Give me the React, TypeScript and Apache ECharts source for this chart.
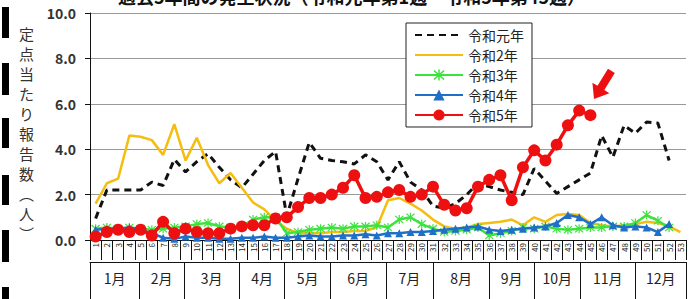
import React, { useEffect, useRef } from "react";
import * as echarts from "echarts";

const weeks: string[] = Array.from({ length: 53 }, (_, i) => String(i + 1));

const seriesNames = ["令和元年", "令和2年", "令和3年", "令和4年", "令和5年"];

const r1: number[] = [
  0.95, 2.2, 2.2, 2.2, 2.2, 2.55, 2.4, 3.55, 3.0, 3.45, 3.8, 3.2, 2.65, 2.3, 2.9, 3.5, 3.9, 1.05, 2.7, 4.3,
  3.6, 3.5, 3.45, 3.35, 3.75, 3.45, 2.65, 3.45, 2.55, 2.2, 1.5, 1.4, 1.6, 2.0, 2.5, 2.35, 2.2, 2.1, 2.0, 3.15,
  2.6, 2.05, 2.35, 2.65, 2.95, 4.6, 3.65, 5.05, 4.7, 5.2, 5.15, 3.5,
];
const r2: number[] = [
  1.6, 2.5, 2.7, 4.6, 4.55, 4.4, 3.75, 5.1, 3.5, 4.5, 3.3, 2.5, 2.95, 2.3, 1.65, 1.35, 0.85, 0.5, 0.3, 0.3,
  0.3, 0.35, 0.35, 0.4, 0.4, 0.55, 1.75, 1.85, 1.6, 1.3, 0.9, 0.6, 0.5, 0.55, 0.7, 0.75, 0.8, 0.9, 0.65, 1.0,
  0.8, 1.1, 1.15, 1.1, 0.75, 0.65, 0.6, 0.65, 0.7, 0.8, 0.75, 0.6, 0.35,
];
const r3: number[] = [
  0.5, 0.55, 0.5, 0.55, 0.5, 0.45, 0.5, 0.55, 0.6, 0.7, 0.75, 0.6, 0.55, 0.6, 0.9, 1.0, 1.0, 0.3, 0.35, 0.45,
  0.5, 0.55, 0.5, 0.6, 0.6, 0.65, 0.55, 0.9, 1.0, 0.7, 0.5, 0.35, 0.4, 0.45, 0.55, 0.2, 0.3, 0.4, 0.55, 0.5,
  0.6, 0.5, 0.45, 0.5, 0.55, 0.55, 0.6, 0.6, 0.75, 1.1, 0.85, 0.55,
];
const r4: number[] = [
  0.45, 0.5, 0.5, 0.55, 0.45, 0.3, 0.1, 0.05, 0.15, 0.1, 0.1, 0.05, 0.05, 0.1, 0.1, 0.15, 0.1, 0.1, 0.15, 0.2,
  0.15, 0.15, 0.2, 0.2, 0.25, 0.2, 0.3, 0.3, 0.35, 0.35, 0.4, 0.45, 0.5, 0.55, 0.6, 0.45, 0.4, 0.45, 0.5, 0.55,
  0.6, 0.75, 1.1, 1.0, 0.7, 1.0, 0.65, 0.55, 0.6, 0.55, 0.35, 0.7,
];
const r5: number[] = [
  0.15, 0.35, 0.45, 0.35, 0.45, 0.2, 0.8, 0.3, 0.5, 0.35, 0.3, 0.3, 0.5, 0.6, 0.65, 0.65, 0.95, 1.0, 1.45, 1.85,
  1.85, 2.0, 2.3, 2.85, 1.85, 1.9, 2.1, 2.2, 1.9, 2.0, 2.35, 1.55, 1.3, 1.4, 2.35, 2.65, 2.85, 1.75, 3.2, 3.95,
  3.5, 4.2, 5.05, 5.7, 5.5,
];

const yTicks = [0, 2, 4, 6, 8, 10];
const monthNames = ["1月", "2月", "3月", "4月", "5月", "6月", "7月", "8月", "9月", "10月", "11月", "12月"];
const monthBounds = [0, 4.4, 8.35, 13.3, 17.3, 21.4, 26.3, 30.5, 35.5, 39.5, 43.6, 48.5, 53];

const FONT = "'Noto Sans CJK JP', 'Noto Sans', sans-serif";

const starPath =
  "path://M-0.12,-1L0.12,-1L0.12,1L-0.12,1Z M-0.9,-0.72L-0.72,-0.9L0.9,0.72L0.72,0.9Z M0.72,-0.9L0.9,-0.72L-0.72,0.9L-0.9,0.72Z";

export default function App() {
  const ref = useRef<HTMLDivElement>(null);
  useEffect(() => {
    if (!ref.current) return;
    const chart = echarts.init(ref.current, undefined, { renderer: "svg" });
    const monthCenters = monthNames.map((_, i) => (monthBounds[i] + monthBounds[i + 1]) / 2);
    const yName = ["定", "点", "当", "た", "り", "報", "告", "数", "︵", "人", "︶"].join("\n");
    const bars = [
      [7, 38],
      [63, 95],
      [118, 148],
      [175, 205],
      [230, 262],
      [287, 305],
    ];
    chart.setOption({
      animation: false,
      backgroundColor: "#ffffff",
      textStyle: { fontFamily: FONT },
      title: {
        text: "過去5年間の発生状況（令和元年第1週～令和5年第45週）",
        left: 118,
        top: -13,
        padding: 0,
        textStyle: { fontSize: 18, fontWeight: "bold", color: "#111", fontFamily: FONT },
      },
      grid: { left: 90, right: 14, top: 13, bottom: 59, containLabel: false },
      legend: {
        orient: "vertical",
        left: 406,
        top: 23,
        padding: [5, 8, 5, 8],
        itemGap: 6,
        itemWidth: 48,
        itemHeight: 14,
        borderColor: "#222",
        borderWidth: 1,
        backgroundColor: "#fff",
        textStyle: { fontSize: 14, color: "#222", fontFamily: FONT },
        data: seriesNames,
      },
      xAxis: [
        {
          type: "category",
          data: weeks,
          boundaryGap: true,
          axisLine: { lineStyle: { color: "#111", width: 1 } },
          axisTick: { show: true, interval: 0, length: 20, lineStyle: { color: "#111" } },
          axisLabel: {
            interval: 0,
            rotate: 90,
            fontSize: 8,
            margin: 3,
            color: "#222",
          },
          splitLine: { show: false },
        },
        {
          type: "value",
          min: 0,
          max: 53,
          position: "bottom",
          offset: 22,
          axisLine: { show: true, lineStyle: { color: "#111", width: 1 } },
          axisTick: {
            show: true,
            inside: false,
            length: 40,
            customValues: monthBounds,
            lineStyle: { color: "#111", width: 1 },
          },
          axisLabel: {
            customValues: monthCenters,
            margin: 9,
            fontSize: 14,
            color: "#222",
            fontFamily: FONT,
            formatter: (v: number) => {
              let best = 0;
              for (let i = 0; i < monthCenters.length; i++) {
                if (Math.abs(monthCenters[i] - v) < Math.abs(monthCenters[best] - v)) best = i;
              }
              return monthNames[best];
            },
          },
          splitLine: { show: false },
        },
      ],
      yAxis: {
        type: "value",
        min: yTicks[0],
        max: yTicks[yTicks.length - 1],
        interval: 2,
        axisLine: { show: true, lineStyle: { color: "#111", width: 1 } },
        axisTick: { show: true, length: 5, lineStyle: { color: "#111" } },
        axisLabel: {
          formatter: (v: number) => v.toFixed(1),
          fontSize: 14,
          fontWeight: "bold",
          color: "#333",
          margin: 14,
          fontFamily: FONT,
        },
        splitLine: { show: true, lineStyle: { color: "#999", width: 1 } },
      },
      series: [
        {
          name: seriesNames[0],
          type: "line",
          data: r1,
          symbol: "none",
          color: "#111",
          itemStyle: { color: "#111", opacity: 0 },
          lineStyle: { color: "#111", width: 3, type: [7, 5] },
          z: 2,
        },
        {
          name: seriesNames[1],
          type: "line",
          data: r2,
          symbol: "none",
          color: "#f5bd10",
          itemStyle: { color: "#f5bd10", opacity: 0 },
          lineStyle: { color: "#f5bd10", width: 2.5 },
          z: 3,
        },
        {
          name: seriesNames[2],
          type: "line",
          data: r3,
          symbol: starPath,
          symbolSize: 9,
          color: "#3ee23e",
          itemStyle: { color: "#3ee23e" },
          lineStyle: { color: "#3ee23e", width: 2.5 },
          z: 4,
        },
        {
          name: seriesNames[3],
          type: "line",
          data: r4,
          symbol: "triangle",
          symbolSize: 8,
          color: "#1f6fc8",
          itemStyle: { color: "#1f6fc8" },
          lineStyle: { color: "#1f6fc8", width: 2.5 },
          z: 5,
        },
        {
          name: seriesNames[4],
          type: "line",
          data: r5,
          symbol: "circle",
          symbolSize: 12,
          color: "#ee1010",
          itemStyle: { color: "#ee1010" },
          lineStyle: { color: "#ee1010", width: 3.5 },
          z: 6,
        },
      ],
      graphic: [
        ...bars.map(([y0, y1]) => ({
          type: "rect",
          shape: { x: 2, y: y0, width: 7, height: y1 - y0 },
          style: { fill: "#000" },
        })),
        {
          type: "text",
          left: 19,
          top: 23,
          style: {
            text: yName,
            fontSize: 15,
            lineHeight: 20,
            fill: "#333",
            fontFamily: FONT,
            align: "center",
          },
        },
        {
          type: "polygon",
          shape: {
            points: [
              [594, 99],
              [609.4, 93.2],
              [604.3, 90.1],
              [614.8, 73.1],
              [608.0, 68.8],
              [597.5, 85.8],
              [592.4, 82.7],
            ],
          },
          style: { fill: "#ee1010" },
          z: 100,
        },
      ],
    });
    return () => chart.dispose();
  }, []);
  return (
    <div
      ref={ref}
      style={{ position: "fixed", left: 0, top: 0, width: 700, height: 299, background: "#fff" }}
    />
  );
}
